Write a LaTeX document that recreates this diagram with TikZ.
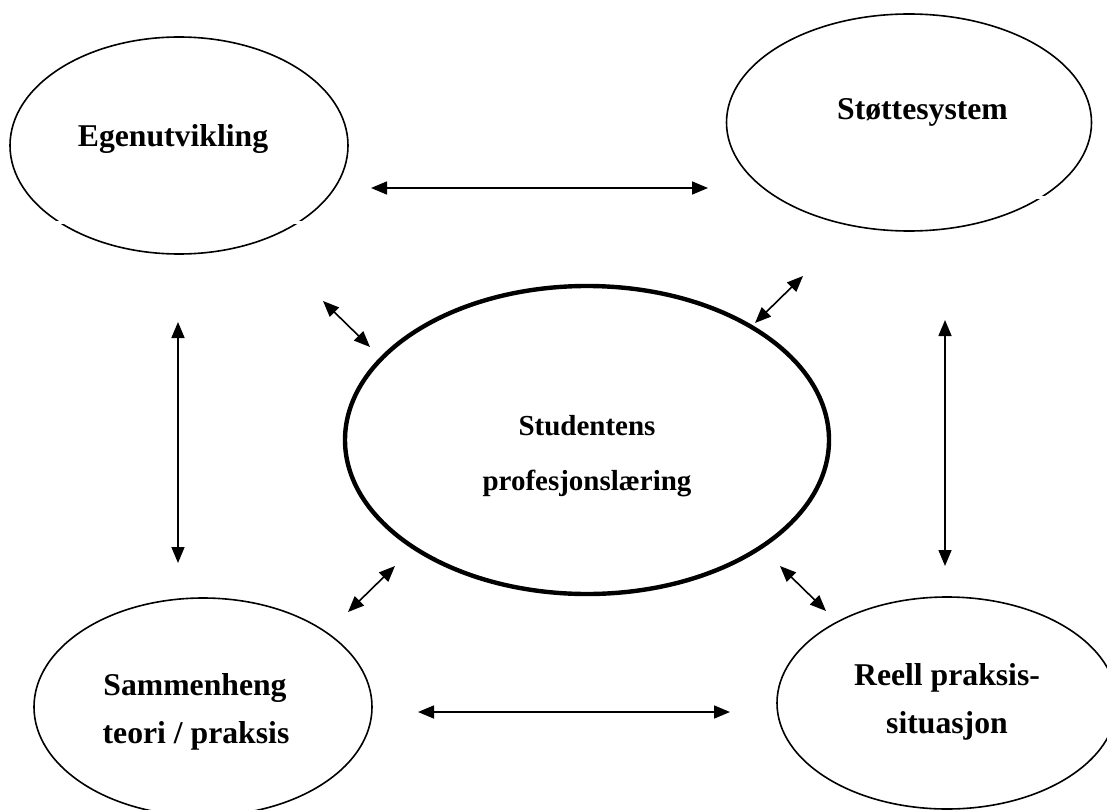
\documentclass[tikz,border=0pt]{standalone}
\usepackage{fontspec}
\setmainfont{Liberation Serif}
\usetikzlibrary{shapes.geometric,arrows.meta}
\tikzset{
  oval/.style={draw, ellipse, line width=1.6pt, inner sep=0pt, outer sep=0pt},
  label/.style={anchor=base, inner sep=0pt, font=\fontsize{31.7pt}{38pt}\selectfont\bfseries},
  clabel/.style={anchor=base, inner sep=0pt, font=\fontsize{29pt}{35pt}\selectfont\bfseries},
  biarrow/.style={line width=1.6pt, {Triangle[length=16pt,width=13pt]}-{Triangle[length=16pt,width=13pt]}},
  gap/.style={white, line width=3pt}
}
\begin{document}
\begin{tikzpicture}[x=1pt,y=-1pt]
\useasboundingbox[fill=white] (0,0) rectangle (1107,810);
% ellipses
\node[oval, minimum width=338pt, minimum height=217pt] (ego) at (179,145.5) {};
\node[oval, minimum width=365pt, minimum height=217pt] (stotte) at (909,122.5) {};
\node[oval, line width=4.4pt, minimum width=484pt, minimum height=308pt] (stud) at (587,440) {};
\node[oval, minimum width=338pt, minimum height=218pt] (samm) at (203,707) {};
\node[oval, minimum width=340pt, minimum height=212pt] (reell) at (947,703) {};
% small gaps in the outlines
\draw[gap] (52,222.5) -- (68,222.5);
\draw[gap] (289,223) -- (305,223);
\draw[gap] (1028,198) -- (1052,198);
% labels
\node[label] (egot) at (173,147) {Egenutvikling};
\node[label] (stottet) at (922.5,120) {Støttesystem};
\node[clabel] (studt1) at (587,435) {Studentens};
\node[clabel] (studt2) at (587,490) {profesjonslæring};
\node[label] (sammt1) at (195,695) {Sammenheng};
\node[label] (sammt2) at (196,743) {teori / praksis};
\node[label] (reellt1) at (947,685) {Reell praksis-};
\node[label] (reellt2) at (947,733) {situasjon};
% arrow end points
\coordinate (t1) at (371,188);  \coordinate (t2) at (708,188);
\coordinate (b1) at (418,712);  \coordinate (b2) at (730,712);
\coordinate (l1) at (178,322);  \coordinate (l2) at (178,563);
\coordinate (r1) at (945,320);  \coordinate (r2) at (945,566);
\coordinate (tl1) at (323,301); \coordinate (tl2) at (370,347);
\coordinate (tr1) at (755,323); \coordinate (tr2) at (803,276);
\coordinate (bl1) at (348,612); \coordinate (bl2) at (395,566);
\coordinate (br1) at (780,566); \coordinate (br2) at (826,611);
% arrows
\draw[biarrow] (t1) -- (t2);
\draw[biarrow] (b1) -- (b2);
\draw[biarrow] (l1) -- (l2);
\draw[biarrow] (r1) -- (r2);
\draw[biarrow] (tl1) -- (tl2);
\draw[biarrow] (tr1) -- (tr2);
\draw[biarrow] (bl1) -- (bl2);
\draw[biarrow] (br1) -- (br2);
\end{tikzpicture}
\end{document}
